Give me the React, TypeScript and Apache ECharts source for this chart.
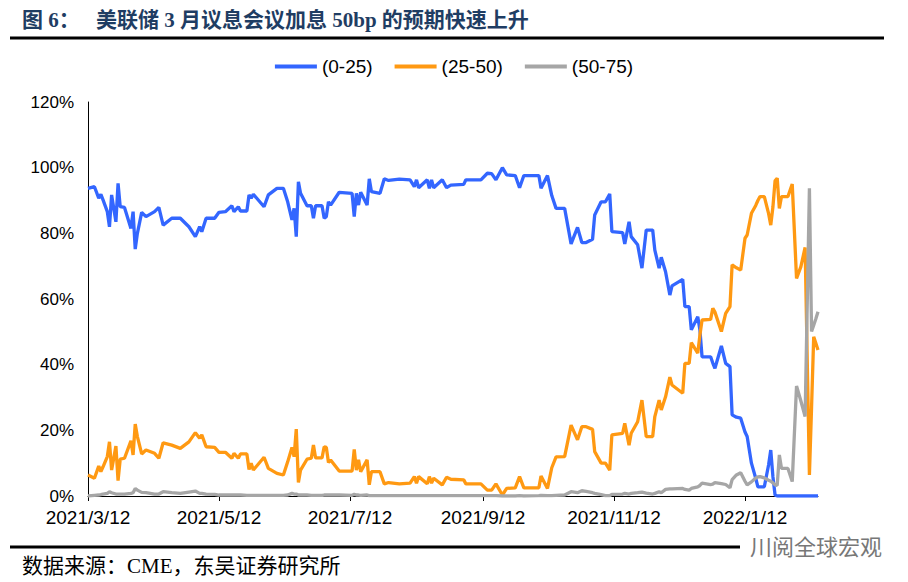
import React, { useEffect, useRef } from "react";
import * as echarts from "echarts";

const seriesNames = ["(0-25)", "(25-50)", "(50-75)"];
const tickDates = ["2021-03-12", "2021-05-12", "2021-07-12", "2021-09-12", "2021-11-12", "2022-01-12"];
const axisStart = "2021-03-12";
const axisEnd = "2022-02-15";
const yTicks = [0, 20, 40, 60, 80, 100, 120];

const dates = [
  "2021-03-12","2021-03-15","2021-03-17","2021-03-18","2021-03-19","2021-03-21","2021-03-22","2021-03-23","2021-03-25","2021-03-26",
  "2021-03-27","2021-03-29","2021-04-01","2021-04-02","2021-04-03","2021-04-04","2021-04-06","2021-04-08","2021-04-12","2021-04-14",
  "2021-04-16","2021-04-20","2021-04-24","2021-04-28","2021-05-01","2021-05-03","2021-05-04","2021-05-06","2021-05-10","2021-05-12",
  "2021-05-15","2021-05-18","2021-05-19","2021-05-21","2021-05-22","2021-05-25","2021-05-26","2021-05-27","2021-05-28","2021-06-02",
  "2021-06-04","2021-06-08","2021-06-11","2021-06-13","2021-06-15","2021-06-16","2021-06-17","2021-06-18","2021-06-19","2021-06-22",
  "2021-06-24","2021-06-25","2021-06-26","2021-06-29","2021-06-30","2021-07-01","2021-07-02","2021-07-03","2021-07-07","2021-07-13",
  "2021-07-14","2021-07-15","2021-07-16","2021-07-17","2021-07-20","2021-07-21","2021-07-22","2021-07-26","2021-07-28","2021-07-30",
  "2021-08-04","2021-08-09","2021-08-11","2021-08-12","2021-08-13","2021-08-17","2021-08-18","2021-08-19","2021-08-20","2021-08-24",
  "2021-08-26","2021-08-28","2021-09-03","2021-09-04","2021-09-11","2021-09-14","2021-09-16","2021-09-18","2021-09-21","2021-09-23",
  "2021-09-27","2021-09-29","2021-10-01","2021-10-08","2021-10-09","2021-10-12","2021-10-14","2021-10-16","2021-10-20","2021-10-23",
  "2021-10-26","2021-10-28","2021-10-30","2021-11-02","2021-11-03","2021-11-06","2021-11-08","2021-11-10","2021-11-11","2021-11-16",
  "2021-11-17","2021-11-19","2021-11-20","2021-11-23","2021-11-25","2021-11-27","2021-11-30","2021-12-01","2021-12-03","2021-12-04",
  "2021-12-06","2021-12-08","2021-12-09","2021-12-14","2021-12-15","2021-12-17","2021-12-18","2021-12-21","2021-12-22","2021-12-23",
  "2021-12-27","2021-12-28","2021-12-29","2022-01-01","2022-01-03","2022-01-05","2022-01-06","2022-01-08","2022-01-10","2022-01-12",
  "2022-01-13","2022-01-15","2022-01-17","2022-01-18","2022-01-19","2022-01-21","2022-01-23","2022-01-24","2022-01-25","2022-01-26",
  "2022-01-27","2022-01-28","2022-01-29","2022-02-01","2022-02-03","2022-02-05","2022-02-07","2022-02-09","2022-02-11","2022-02-12",
  "2022-02-13","2022-02-14","2022-02-15"
];

const s0025 = [
  93.7,94.2,90.7,91.9,90.2,86.6,82.0,91.7,83.5,95.2,
  88.1,87.9,81.5,86.6,75.2,80.0,86.4,85.1,86.6,87.9,
  82.5,84.6,84.6,82.0,79.0,82.0,80.5,84.6,84.6,86.4,
  86.6,88.4,86.6,88.1,86.8,86.8,91.7,90.7,91.9,88.1,
  91.7,93.7,93.7,89.6,84.1,87.6,79.0,95.7,92.2,88.4,
  88.4,84.6,88.4,88.4,84.6,85.1,89.6,88.6,92.5,92.2,
  85.1,92.2,88.6,92.5,88.6,96.6,92.7,92.2,96.6,96.1,
  96.5,96.3,94.2,96.3,93.9,96.3,93.7,96.3,93.9,96.3,
  93.9,94.7,94.9,96.3,96.3,98.3,98.2,96.3,100.0,97.8,
  97.6,93.9,97.6,97.6,93.7,97.6,91.5,87.6,87.6,76.8,
  81.8,77.2,77.2,78.2,85.6,89.6,89.6,92.0,80.5,80.2,
  76.8,83.5,79.0,76.5,69.4,81.0,81.0,74.9,69.4,72.7,
  68.3,61.2,64.0,66.0,57.7,57.7,50.6,54.6,50.6,42.4,
  42.4,40.5,38.9,45.7,40.4,39.4,24.7,24.0,23.7,19.5,
  18.1,10.0,5.4,2.8,2.8,2.8,9.5,14.0,5.9,0.3,
  0,0,0,0,0,0,0,0,0,0,
  0,0,0
];

const s2550 = [
  6.4,5.4,9.1,7.4,8.9,12.0,16.5,7.9,15.2,4.7,
  11.2,11.5,16.8,12.5,21.9,18.1,12.8,14.0,13.0,11.5,
  16.2,15.5,14.5,16.5,19.3,17.6,18.6,15.0,14.8,13.3,
  13.3,11.5,13.0,11.5,12.8,12.8,8.1,10.0,7.9,11.8,
  8.4,6.9,6.4,10.4,14.8,12.0,20.4,4.1,7.9,11.2,
  11.5,15.5,11.6,11.6,15.0,14.8,10.2,11.0,7.6,7.6,
  14.2,7.9,11.0,7.4,11.0,3.4,7.4,7.4,3.7,4.1,
  3.7,3.9,5.9,3.9,5.9,3.7,5.9,3.9,5.4,3.4,
  5.7,5.1,4.9,3.7,3.7,1.8,1.8,3.7,0.3,2.3,
  2.5,5.9,2.5,2.5,6.1,2.3,8.6,11.9,12.0,21.6,
  17.1,21.1,21.1,20.3,13.5,10.0,10.0,7.9,18.6,19.1,
  22.1,15.5,19.1,22.6,29.2,18.1,18.1,24.2,29.2,26.2,
  30.2,36.2,33.8,31.3,40.4,40.4,46.7,43.5,49.0,53.6,
  53.8,57.2,56.0,50.1,55.6,57.7,70.4,69.5,68.8,78.5,
  79.5,86.1,88.5,90.0,91.2,91.2,86.0,82.5,88.0,96.0,
  96.8,87.6,91.2,91.2,95.0,66.3,69.8,75.7,6.4,27.0,
  48.5,46.5,44.5
];

const s5075 = [
  0.0,0.2,0.3,0.4,0.6,0.8,1.3,1.0,0.6,0.6,
  0.6,0.6,0.8,1.0,2.3,1.8,1.1,1.0,0.6,0.6,
  1.3,1.0,0.8,1.2,1.5,0.8,0.8,0.6,0.5,0.3,
  0.3,0.3,0.3,0.3,0.3,0.2,0.2,0.2,0.2,0.2,
  0.2,0.2,0.2,0.3,0.8,0.6,0.6,0.3,0.3,0.3,
  0.2,0.2,0.2,0.2,0.3,0.3,0.3,0.3,0.3,0.2,
  0.5,0.3,0.3,0.2,0.3,0.1,0.1,0.1,0.1,0.1,
  0.1,0.1,0.1,0.1,0.1,0.1,0.1,0.1,0.1,0.1,
  0.1,0.1,0.1,0.1,0.1,0.1,0.1,0.1,0.0,0.0,
  0.0,0.1,0.0,0.1,0.2,0.1,0.1,0.2,0.3,1.3,
  1.0,1.6,1.4,1.0,0.8,0.4,0.1,0.1,0.5,0.6,
  0.8,0.6,0.8,1.0,1.2,0.9,0.6,0.8,1.3,1.0,
  2.0,2.2,2.2,2.3,2.0,1.8,2.3,2.8,3.2,3.9,
  3.5,3.6,4.1,3.8,3.5,2.5,5.0,6.4,7.1,4.5,
  3.4,4.3,5.5,5.8,5.9,5.5,4.8,4.5,4.0,3.4,
  3.2,12.5,8.4,8.4,4.4,33.5,29.0,24.2,93.7,50.1,
  52.0,54.0,56.1
];

const colors = ["#3366FF", "#FF9912", "#A6A6A6"];
const DAY = 86400000;

function ts(s: string): number {
  const [y, m, d] = s.split("-").map(Number);
  return Date.UTC(y, m - 1, d);
}

function dayIndex(s: string): number {
  return Math.round((ts(s) - ts(axisStart)) / DAY);
}

function fmtDay(v: number): string {
  const d = new Date(ts(axisStart) + Math.round(v) * DAY);
  return `${d.getUTCFullYear()}/${d.getUTCMonth() + 1}/${d.getUTCDate()}`;
}

export default function App() {
  const ref = useRef<HTMLDivElement>(null);
  useEffect(() => {
    if (!ref.current) return;
    const chart = echarts.init(ref.current, null, { renderer: "svg" });
    const allSeries = [s0025, s2550, s5075];
    const tickValues = tickDates.map(dayIndex);
    chart.setOption({
      animation: false,
      backgroundColor: "#ffffff",
      textStyle: { fontFamily: "Liberation Sans, Arial, sans-serif" },
      grid: { left: 88, right: 90, top: 102, bottom: 86, containLabel: false },
      legend: {
        top: 52,
        left: "center",
        icon: "rect",
        itemWidth: 42,
        itemHeight: 4,
        itemGap: 22,
        textStyle: { fontSize: 19, color: "#000", fontFamily: "Liberation Sans, Arial, sans-serif" },
        data: seriesNames,
      },
      xAxis: {
        type: "value",
        min: 0,
        max: dayIndex(axisEnd),
        axisLine: { show: true, lineStyle: { color: "#000", width: 1 } },
        axisTick: { show: true, customValues: tickValues, length: 5, lineStyle: { color: "#000" } },
        axisLabel: {
          customValues: tickValues,
          formatter: (v: number) => fmtDay(v),
          fontSize: 19,
          color: "#000",
          margin: 12,
          fontFamily: "Liberation Sans, Arial, sans-serif",
        },
        splitLine: { show: false },
      },
      yAxis: {
        type: "value",
        min: yTicks[0],
        max: yTicks[yTicks.length - 1],
        interval: 20,
        axisLine: { show: true, lineStyle: { color: "#000", width: 1 } },
        axisTick: { show: false },
        axisLabel: { formatter: "{value}%", fontSize: 17, color: "#000", margin: 14, fontFamily: "Liberation Sans, Arial, sans-serif" },
        splitLine: { show: false },
      },
      series: seriesNames.map((name, i) => ({
        name,
        type: "line",
        symbol: "none",
        smooth: false,
        color: colors[i],
        lineStyle: { width: 3.3, color: colors[i] },
        data: dates.map((d, k) => [dayIndex(d), allSeries[i][k]]),
      })),
      graphic: [
        {
          type: "text",
          left: 22,
          top: 9,
          style: {
            text: "图 6：",
            font: "bold 21px 'Liberation Serif', 'Noto Sans CJK SC', serif",
            fill: "#1f3d63",
          },
        },
        {
          type: "text",
          left: 96,
          top: 9,
          style: {
            text: "美联储 3 月议息会议加息 50bp 的预期快速上升",
            font: "bold 21px 'Liberation Serif', 'Noto Sans CJK SC', serif",
            fill: "#1f3d63",
          },
        },
        {
          type: "line",
          shape: { x1: 10, y1: 38, x2: 884, y2: 38 },
          style: { stroke: "#000", lineWidth: 3 },
        },
        {
          type: "line",
          shape: { x1: 10, y1: 547, x2: 740, y2: 547 },
          style: { stroke: "#000", lineWidth: 3 },
        },
        {
          type: "text",
          left: 22,
          top: 555,
          style: {
            text: "数据来源：CME，东吴证券研究所",
            font: "21px 'Liberation Serif', 'Noto Sans CJK SC', serif",
            fill: "#000",
          },
        },
        {
          type: "text",
          left: 750,
          top: 534,
          style: {
            text: "川阅全球宏观",
            font: "22px 'Noto Sans CJK SC', sans-serif",
            fill: "#777",
          },
        },
      ],
    });
    return () => chart.dispose();
  }, []);
  return (
    <div style={{ position: "fixed", left: 0, top: 0, width: 908, height: 582, background: "#fff" }}>
      <div ref={ref} style={{ width: 908, height: 582 }} />
    </div>
  );
}
